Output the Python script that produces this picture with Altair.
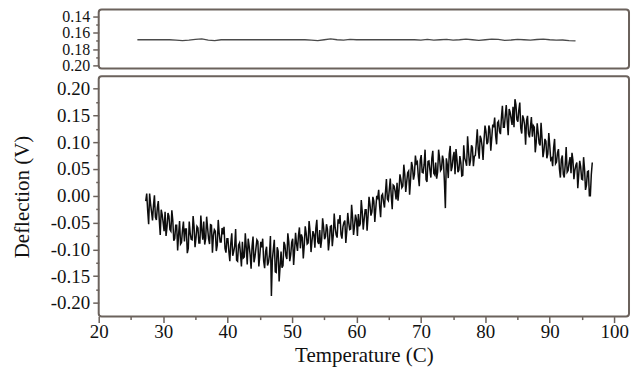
import altair as alt
import pandas as pd

# Deflection (V) read every 0.3 C starting at 27.3 C
deflection_a = [
    -0.010, -0.028, 0.004, -0.030, -0.018, -0.040, -0.022, -0.045, -0.026, -0.050,
    -0.030, -0.058, -0.038, -0.066, -0.046, -0.080, -0.055, -0.072, -0.090, -0.064,
    -0.085, -0.062, -0.098, -0.070, -0.082, -0.058, -0.078, -0.060, -0.088, -0.064,
    -0.048, -0.080, -0.060, -0.090, -0.055, -0.074, -0.066, -0.092, -0.070, -0.086,
    -0.072, -0.098, -0.080, -0.104, -0.088, -0.112, -0.094, -0.120, -0.092, -0.108,
    -0.086, -0.114, -0.096, -0.080, -0.110, -0.094, -0.124, -0.098, -0.085, -0.112,
    -0.096, -0.122, -0.104, -0.130, -0.110, -0.187, -0.100, -0.142, -0.096, -0.160,
    -0.104, -0.130, -0.092, -0.118, -0.086, -0.110, -0.080, -0.102, -0.090, -0.074,
    -0.098, -0.078, -0.092, -0.070, -0.088, -0.066, -0.084, -0.072, -0.060, -0.086,
    -0.064, -0.082, -0.058, -0.076, -0.062, -0.084, -0.056, -0.074, -0.060, -0.078,
    -0.052, -0.072, -0.058, -0.046, -0.066, -0.050, -0.062, -0.040, -0.056, -0.044,
    -0.034, -0.052, -0.030, -0.044, -0.026, -0.038, -0.016, -0.030, -0.010, -0.024,
    -0.004, -0.020, 0.000, -0.012, 0.006, -0.006, 0.012, 0.000, 0.020, 0.008,
    0.024, 0.010, 0.030, 0.018, 0.040, 0.026, 0.046, 0.030, 0.054, 0.040,
    0.060, 0.036, 0.066, 0.044, 0.058, 0.030, 0.064, 0.048, 0.070, 0.042,
    0.062, 0.044, 0.070, 0.050, 0.066, -0.023, 0.058, 0.078, 0.046, 0.072,
    0.040, 0.068, 0.048, 0.062, 0.038, 0.070, 0.056, 0.082, 0.066, 0.090,
    0.074, 0.098, 0.086, 0.112, 0.092, 0.104, 0.120, 0.100, 0.124, 0.108,
    0.128, 0.112, 0.136, 0.120, 0.146, 0.128, 0.150, 0.138, 0.162, 0.144,
    0.166, 0.180, 0.142, 0.160, 0.126, 0.150, 0.132, 0.140, 0.116, 0.128,
    0.110, 0.128, 0.100, 0.118, 0.094, 0.108, 0.084, 0.102, 0.078, 0.094,
    0.070, 0.090, 0.060, 0.080, 0.050, 0.068, 0.040, 0.058, 0.044, 0.062,
    0.042, 0.066, 0.048, 0.062, 0.040, 0.054, 0.030, 0.050, 0.020, 0.046,
    0.000, 0.062,
]
# Readings taken 0.15 C after each of the ones above
deflection_b = [
    0.004, -0.053, -0.015, -0.046, 0.001, -0.045, -0.010, -0.073, -0.035, -0.066,
    -0.075, -0.032, -0.063, -0.027, -0.084, -0.055, -0.102, -0.047, -0.087, -0.048,
    -0.062, -0.107, -0.048, -0.081, -0.038, -0.096, -0.057, -0.088, -0.037, -0.082,
    -0.091, -0.039, -0.080, -0.054, -0.106, -0.063, -0.103, -0.045, -0.086, -0.060,
    -0.058, -0.106, -0.080, -0.122, -0.070, -0.104, -0.062, -0.122, -0.088, -0.132,
    -0.116, -0.070, -0.128, -0.094, -0.136, -0.076, -0.114, -0.082, -0.132, -0.086,
    -0.080, -0.135, -0.095, -0.124, -0.075, -0.119, -0.082, -0.143, -0.103, -0.132,
    -0.134, -0.086, -0.112, -0.070, -0.122, -0.087, -0.129, -0.069, -0.103, -0.059,
    -0.072, -0.117, -0.057, -0.090, -0.047, -0.105, -0.066, -0.097, -0.045, -0.090,
    -0.097, -0.042, -0.081, -0.053, -0.102, -0.057, -0.094, -0.033, -0.073, -0.044,
    -0.036, -0.080, -0.050, -0.088, -0.032, -0.063, -0.017, -0.073, -0.035, -0.075,
    -0.057, -0.008, -0.063, -0.026, -0.065, -0.002, -0.037, -0.002, -0.049, 0.000,
    0.011, -0.040, 0.003, -0.022, 0.031, -0.009, 0.032, -0.025, 0.018, -0.007,
    -0.009, 0.040, 0.015, 0.058, 0.007, 0.043, 0.002, 0.063, 0.030, 0.075,
    0.063, 0.018, 0.076, 0.043, 0.086, 0.026, 0.065, 0.034, 0.084, 0.039,
    0.032, 0.086, 0.047, 0.075, 0.026, 0.070, 0.033, 0.093, 0.054, 0.082,
    0.087, 0.044, 0.074, 0.037, 0.094, 0.064, 0.111, 0.056, 0.094, 0.055,
    0.075, 0.124, 0.069, 0.106, 0.067, 0.131, 0.096, 0.131, 0.084, 0.133,
    0.146, 0.096, 0.139, 0.115, 0.168, 0.128, 0.169, 0.113, 0.156, 0.132,
    0.128, 0.170, 0.138, 0.174, 0.116, 0.144, 0.095, 0.149, 0.109, 0.147,
    0.131, 0.081, 0.135, 0.098, 0.136, 0.072, 0.106, 0.070, 0.117, 0.067,
    0.055, 0.106, 0.063, 0.087, 0.034, 0.075, 0.034, 0.091, 0.047, 0.072,
    0.080, 0.031, 0.057, 0.014, 0.065, 0.031, 0.072, 0.011, 0.045, 0.000,
    0.040,
]

rows = []
for i, v in enumerate(deflection_a):
    rows.append({"t": round(27.3 + 0.3 * i, 2), "v": v})
    if i < len(deflection_b):
        rows.append({"t": round(27.45 + 0.3 * i, 2), "v": deflection_b[i]})
df = pd.DataFrame(rows)

# Top panel trace, one value per degree from 26 C to 94 C
top_temps = list(range(26, 95))
top_values = [
    0.1685, 0.1685, 0.1685, 0.1685, 0.1685, 0.1685, 0.1690, 0.1695, 0.1690, 0.1680,
    0.1675, 0.1690, 0.1695, 0.1685, 0.1685, 0.1685, 0.1685, 0.1685, 0.1685, 0.1685,
    0.1685, 0.1685, 0.1685, 0.1685, 0.1685, 0.1685, 0.1685, 0.1690, 0.1695, 0.1685,
    0.1675, 0.1685, 0.1690, 0.1680, 0.1685, 0.1685, 0.1685, 0.1685, 0.1685, 0.1685,
    0.1685, 0.1685, 0.1685, 0.1685, 0.1690, 0.1680, 0.1690, 0.1685, 0.1680, 0.1690,
    0.1685, 0.1678, 0.1685, 0.1692, 0.1685, 0.1678, 0.1680, 0.1692, 0.1688, 0.1680,
    0.1685, 0.1690, 0.1682, 0.1678, 0.1685, 0.1690, 0.1688, 0.1695, 0.1700,
]
df_top = pd.DataFrame({"t": top_temps, "v": top_values})

x_ticks = list(range(20, 101, 5))
y_ticks = [round(-0.2 + 0.025 * i, 3) for i in range(17)]
top_ticks = [0.14, 0.15, 0.16, 0.17, 0.18, 0.19, 0.20]

FONT = "Liberation Serif"
FRAME = "#6b625c"

x_scale = alt.Scale(domain=[20, 102.3], nice=False, zero=False)

top = alt.Chart(df_top).mark_line(color="#4a4a4a", strokeWidth=1.3).encode(
    x=alt.X("t:Q", scale=x_scale, axis=None),
    y=alt.Y(
        "v:Q",
        scale=alt.Scale(domain=[0.1314, 0.2037], reverse=True, nice=False, zero=False),
        axis=alt.Axis(
            values=top_ticks,
            title=None,
            labelOverlap=False,
            labelFont=FONT,
            labelFontSize=16,
            labelExpr="round(datum.value*100) % 2 === 0 ? format(datum.value, '.2f') : ''",
            tickSize={"condition": {"test": "round(datum.value*100) % 2 === 0", "value": 6}, "value": 3},
        ),
    ),
).properties(width=532, height=59)

major_y = "abs(datum.value*20 - round(datum.value*20)) < 0.001"
bottom = alt.Chart(df).mark_line(color="#0d0d0d", strokeWidth=1.5).encode(
    x=alt.X(
        "t:Q",
        scale=x_scale,
        axis=alt.Axis(
            values=x_ticks,
            title="Temperature (C)",
            labelOverlap=False,
            labelFont=FONT,
            titleFont=FONT,
            labelExpr="datum.value % 10 === 0 ? datum.label : ''",
            tickSize={"condition": {"test": "datum.value % 10 === 0", "value": 6}, "value": 3},
            labelFlush=False,
            labelPadding=0,
            titlePadding=3,
        ),
    ),
    y=alt.Y(
        "v:Q",
        scale=alt.Scale(domain=[-0.2253, 0.2227], nice=False, zero=False),
        axis=alt.Axis(
            values=y_ticks,
            title="Deflection (V)",
            labelOverlap=False,
            labelFont=FONT,
            titleFont=FONT,
            labelExpr=major_y + " ? replace(format(datum.value, '.2f'), '\u2212', '-') : ''",
            tickSize={"condition": {"test": major_y, "value": 6}, "value": 3},
            titlePadding=18,
        ),
    ),
).properties(width=532, height=241)

chart = alt.vconcat(top, bottom, spacing=8, bounds="flush").configure(
    padding={"left": 2, "top": -1, "right": 2, "bottom": 0},
    background="white",
    font=FONT,
).configure_view(
    stroke=FRAME, strokeWidth=2, cornerRadius=3
).configure_axis(
    labelFont=FONT,
    labelFontSize=19,
    labelColor="#111111",
    titleFont=FONT,
    titleFontSize=21,
    titleFontWeight="normal",
    titleColor="#111111",
    tickColor=FRAME,
    tickWidth=1.5,
    labelPadding=3,
    domain=False,
    grid=False,
)

chart.save("out.html", embed_options={"renderer": "svg", "actions": False})
